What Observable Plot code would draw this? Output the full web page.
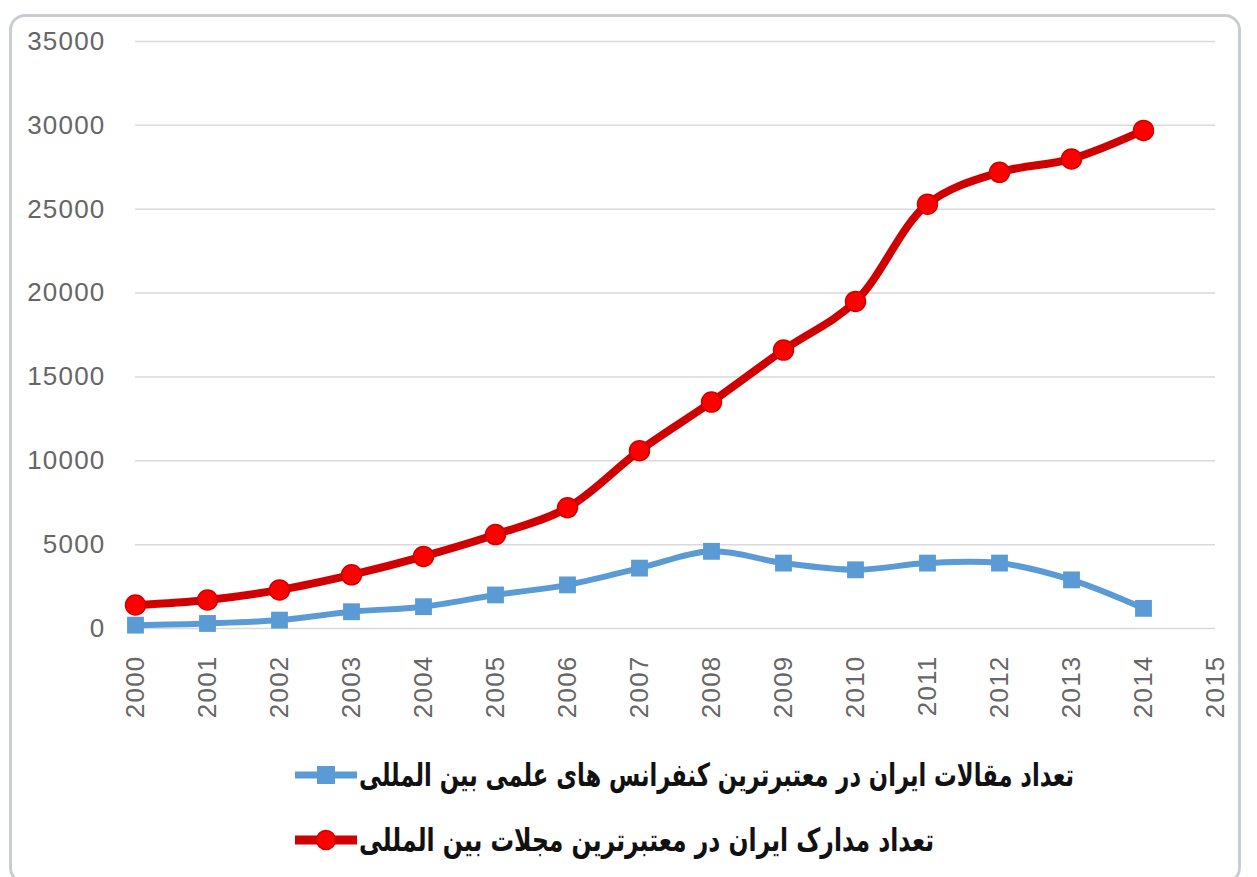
<!DOCTYPE html>
<html><head><meta charset="utf-8">
<script src="https://cdn.jsdelivr.net/npm/d3@7"></script>
<script src="https://cdn.jsdelivr.net/npm/@observablehq/plot@0.6"></script>
<style>
html,body{margin:0;padding:0;background:#fff;width:1257px;height:877px;overflow:hidden;position:relative;font-family:"Liberation Sans",Arial,sans-serif;}
#frame{position:absolute;left:9px;top:14px;width:1232px;height:870px;border:3px solid #c9cdd2;border-radius:16px;box-sizing:border-box;}
#chart{position:absolute;left:0;top:0;}
.leg{position:absolute;display:flex;align-items:center;direction:ltr;}
.leg span{font-family:"DejaVu Sans",sans-serif;font-weight:bold;font-size:32px;color:#111;direction:rtl;white-space:nowrap;display:inline-block;transform-origin:left center;}
</style></head>
<body>
<div id="frame"></div>
<div id="chart"></div>
<div class="leg" id="leg1" style="left:293px;top:755px;"><svg width="66" height="40"><line x1="2" y1="20" x2="64" y2="20" stroke="#5b9bd5" stroke-width="7"/><rect x="24" y="11" width="18" height="18" fill="#5b9bd5"/></svg><span id="t1"></span></div>
<div class="leg" id="leg2" style="left:293px;top:820px;"><svg width="66" height="40"><line x1="2" y1="20" x2="64" y2="20" stroke="#d10000" stroke-width="9"/><circle cx="33" cy="20" r="9.5" fill="#ff0000" stroke="#d10000" stroke-width="1.5"/></svg><span id="t2"></span></div>
<script>
const years = [2000,2001,2002,2003,2004,2005,2006,2007,2008,2009,2010,2011,2012,2013,2014];
const journals = [1400,1700,2300,3200,4300,5600,7200,10600,13500,16600,19500,25300,27200,28000,29700];
const conferences = [200,300,500,1000,1300,2000,2600,3600,4600,3900,3500,3900,3900,2900,1200];
const yTicks = [0,5000,10000,15000,20000,25000,30000,35000];
const xTicks = [2000,2001,2002,2003,2004,2005,2006,2007,2008,2009,2010,2011,2012,2013,2014,2015];
const labelConf = "تعداد مقالات ایران در معتبرترین کنفرانس های علمی بین المللی";
const labelJour = "تعداد مدارک ایران در معتبرترین مجلات بین المللی";

const jData = years.map((y,i)=>({year:y, value:journals[i]}));
const cData = years.map((y,i)=>({year:y, value:conferences[i]}));

const plot = Plot.plot({
  width:1257, height:740,
  marginTop:41, marginBottom:112, marginLeft:135, marginRight:42,
  style:{fontFamily:"Liberation Sans, Arial, sans-serif", fontSize:"26px", color:"#666", background:"transparent"},
  x:{domain:[2000,2015], ticks:xTicks, tickFormat:d=>String(d), tickRotate:-90, tickSize:0, tickPadding:27, label:null},
  y:{domain:[0,35000], ticks:yTicks, tickFormat:d=>String(d), tickSize:0, tickPadding:30, label:null},
  marks:[
    Plot.gridY(yTicks,{stroke:"#d9d9d9", strokeOpacity:1, strokeWidth:1.5}),
    Plot.axisY({ticks:yTicks, tickFormat:d=>String(d), tickSize:0, tickPadding:30, label:null, fill:"#666"}),
    Plot.axisX({ticks:xTicks, tickFormat:d=>String(d), tickRotate:-90, tickSize:0, tickPadding:27, label:null, fill:"#666"}),
    Plot.line(cData,{x:"year", y:"value", stroke:"#5b9bd5", strokeWidth:6, curve:"catmull-rom"}),
    Plot.dot(cData,{x:"year", y:"value", symbol:"square", r:9.5, fill:"#5b9bd5", stroke:"none"}),
    Plot.line(jData,{x:"year", y:"value", stroke:"#d10000", strokeWidth:8, curve:"catmull-rom"}),
    Plot.dot(jData,{x:"year", y:"value", r:10, fill:"#ff0000", stroke:"#d10000", strokeWidth:1.5})
  ]
});
plot.querySelectorAll("text").forEach(t=>t.style.letterSpacing="1.2px");
document.getElementById("chart").appendChild(plot);
const t1=document.getElementById("t1"), t2=document.getElementById("t2");
t1.textContent=labelConf; t2.textContent=labelJour;
function fit(el,w){const cw=el.getBoundingClientRect().width; el.style.transform=`scaleX(${w/cw})`; el.style.width=cw+"px";}
fit(t1,715); fit(t2,575);
</script>
</body></html>
